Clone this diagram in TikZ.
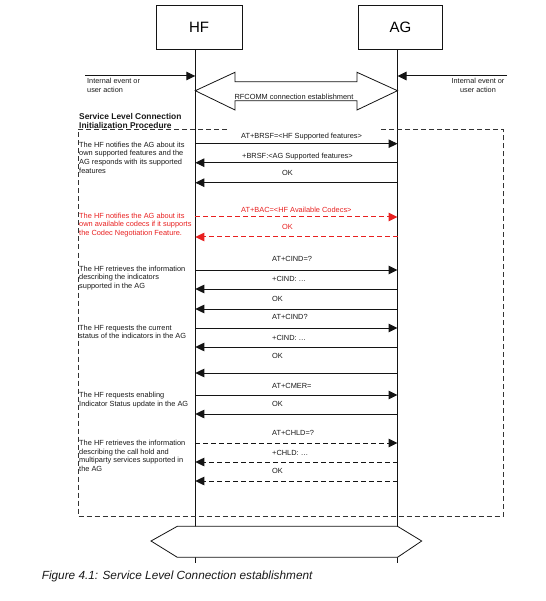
\documentclass[tikz,border=0pt]{standalone}
\usepackage{fontspec}
\setmainfont{Liberation Sans}
\usetikzlibrary{arrows.meta}

\definecolor{cLine}{gray}{0.08}
\definecolor{cText}{gray}{0.10}
\definecolor{cRed}{RGB}{232,32,32}
\definecolor{cFrame}{gray}{0.20}

\begin{document}
\begin{tikzpicture}[x=1pt, y=-1pt,
  entity/.style={draw=cLine, line width=0.6pt, inner sep=0pt, minimum width=86pt, minimum height=44pt, font=\fontsize{15}{18}\selectfont},
  life/.style={draw=cLine, line width=0.8pt},
  msg/.style={draw=cLine, line width=1pt, -{Triangle[length=9pt, width=8.5pt]}},
  optmsg/.style={msg, dash pattern=on 5pt off 3pt},
  redmsg/.style={optmsg, draw=cRed},
  lbl/.style={font=\fontsize{7.4}{8.6}\selectfont, text=cText, anchor=west, inner sep=0pt},
  note/.style={lbl, align=left},
  frame/.style={draw=cFrame, line width=0.6pt, dash pattern=on 5pt off 3pt}
]

\useasboundingbox (0,0) rectangle (545,601);

\pgfmathsetmacro{\hfx}{195.3}
\pgfmathsetmacro{\agx}{397.5}

% ── Entities and lifelines ──
\node[entity] (hf) at (199,27) {HF};
\node[entity, minimum width=84pt] (ag) at (400.5,27) {AG};
\coordinate (hfBot) at (\hfx,563);
\coordinate (agBot) at (\agx,563);
\draw[life] (hf.south -| hfBot) -- (hfBot);
\draw[life] (ag.south -| agBot) -- (agBot);

% ── Internal events ──
\coordinate (evL) at (85,76);
\coordinate (evR) at (507,76);
\coordinate (hfEv) at (\hfx,76);
\coordinate (agEv) at (\agx,76);
\draw[msg] (evL) -- (hfEv);
\draw[msg] (evR) -- (agEv);
\node[note, font=\fontsize{7.3}{9}\selectfont] (evLtxt) at (87,85) {Internal event or\\user action};
\node[lbl, align=center, anchor=center, font=\fontsize{7.3}{9}\selectfont] (evRtxt) at (478,85) {Internal event or\\user action};

% ── RFCOMM connection ──
\draw[life, fill=white] (\hfx,90.7) -- (235,72.3) -- (235,81.7) -- (357,81.7) -- (357,72.3)
  -- (\agx,90.7) -- (357,110) -- (357,100.7) -- (235,100.7) -- (235,110) -- cycle;
\node[lbl, anchor=center] (rfcomm) at (294,96.7) {RFCOMM connection establishment};

% ── Procedure frame ──
\node[note, font=\fontsize{8.4}{9.3}\selectfont\bfseries] (slc) at (79,121.3)
  {Service Level Connection\\Initialization Procedure};
\draw[frame] (227,129.5) -- (78,129.5) -- (78,516) -- (503,516) -- (503,129.5) -- (379,129.5);

% ── Messages ──
\foreach \i/\y/\lx/\ly/\a/\b/\sty/\col/\txt in {
  1/143.7/241/137/hf/ag/msg/cText/AT+BRSF=<HF Supported features>,
  2/162.7/242/157/ag/hf/msg/cText/+BRSF:<AG Supported features>,
  3/182.7/282/173/ag/hf/msg/cText/OK,
  4/217/241/210/hf/ag/redmsg/cRed/AT+BAC=<HF Available Codecs>,
  5/237/282/227/ag/hf/redmsg/cRed/OK,
  6/270/272/259/hf/ag/msg/cText/AT+CIND=?,
  7/289/272/279/ag/hf/msg/cText/+CIND: \ldots,
  8/309/272/299/ag/hf/msg/cText/OK,
  9/328/272/317/hf/ag/msg/cText/AT+CIND?,
  10/347/272/338/ag/hf/msg/cText/+CIND: \ldots,
  11/373/272/356/ag/hf/msg/cText/OK,
  12/395/272/386/hf/ag/msg/cText/AT+CMER=,
  13/414/272/404/ag/hf/msg/cText/OK,
  14/443/272/433/hf/ag/optmsg/cText/AT+CHLD=?,
  15/462/272/453/ag/hf/optmsg/cText/+CHLD: \ldots,
  16/481/272/471/ag/hf/optmsg/cText/OK}
{
  \coordinate (hf\i) at (\hfx,\y);
  \coordinate (ag\i) at (\agx,\y);
  \draw[\sty] (\a\i) -- (\b\i);
  \node[lbl, text=\col] (m\i) at (\lx,\ly) {\txt};
}

% ── Notes ──
\node[note] (n1) at (79,157.5) {The HF notifies the AG about its\\own supported features and the\\AG responds with its supported\\features};
\node[note, text=cRed] (n2) at (79,225) {The HF notifies the AG about its\\own available codecs if it supports\\the Codec Negotiation Feature.};
\node[note] (n3) at (79,278) {The HF retrieves the information\\describing the indicators\\supported in the AG};
\node[note] (n4) at (79,332) {The HF requests the current\\status of the indicators in the AG};
\node[note] (n5) at (79,400) {The HF requests enabling\\Indicator Status update in the AG};
\node[note] (n6) at (79,456) {The HF retrieves the information\\describing the call hold and\\multiparty services supported in\\the AG};

% ── End of procedure ──
\draw[life, fill=white] (151,541) -- (177.3,526.3) -- (\agx,526.3) -- (421.7,541) -- (\agx,557.3) -- (177.3,557.3) -- cycle;

% ── Caption ──
\node[lbl, anchor=west, font=\fontsize{11.8}{13}\selectfont\itshape] (cap) at (41.6,576)
  {Figure 4.1: Service Level Connection establishment};

\end{tikzpicture}
\end{document}
